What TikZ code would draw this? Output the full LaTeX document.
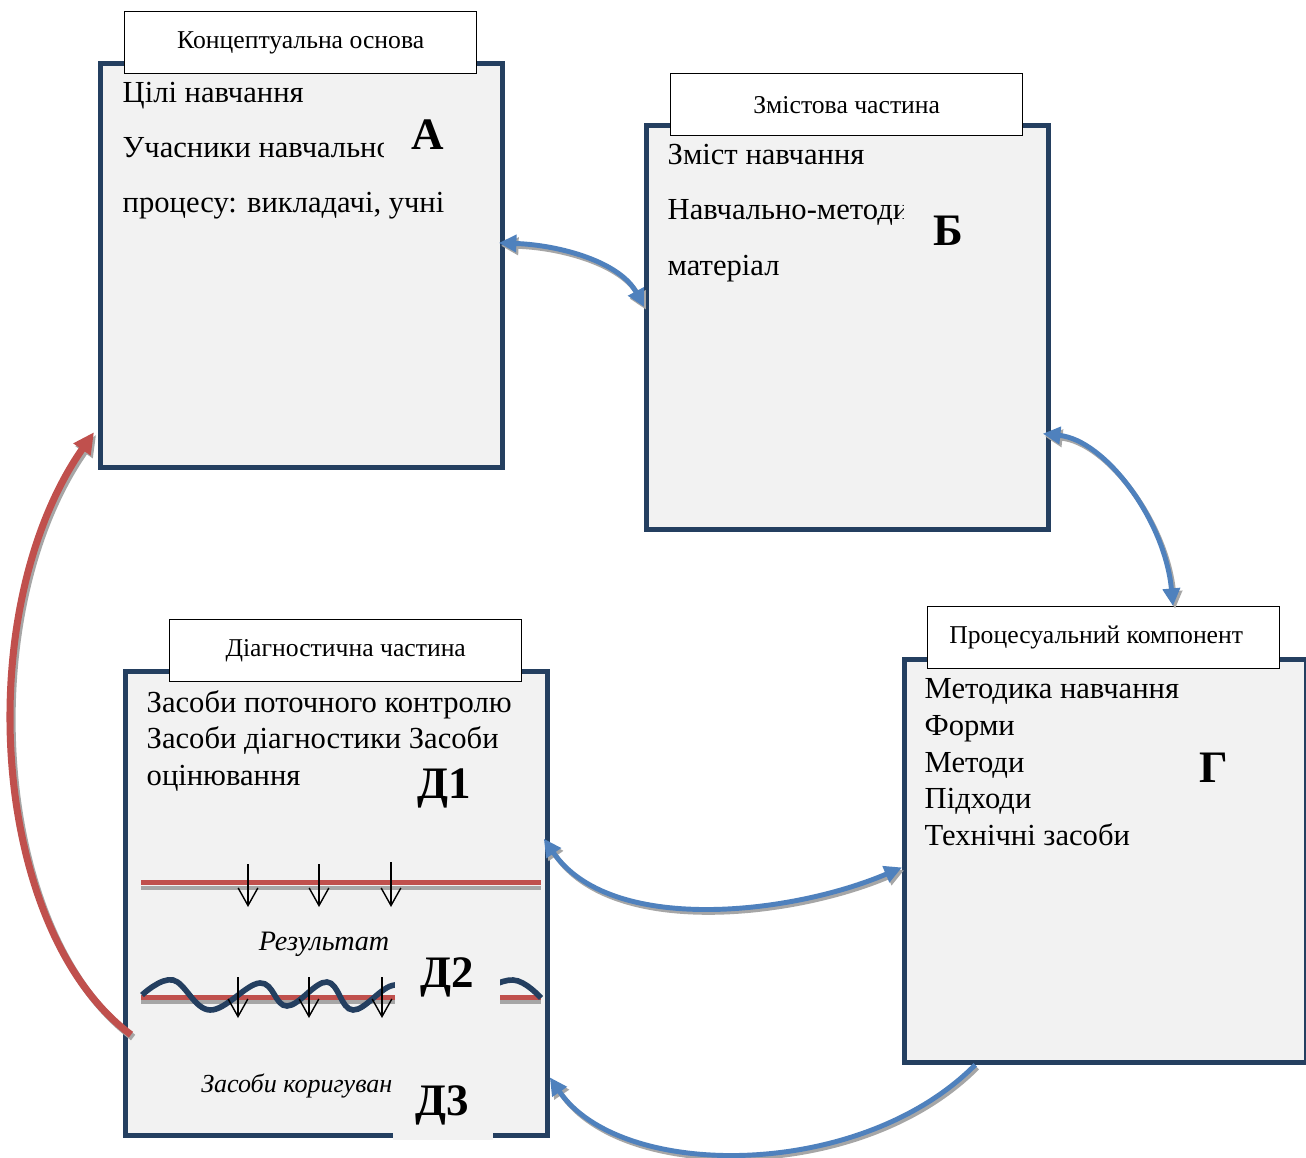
\documentclass[tikz,border=0pt]{standalone}
\usepackage{fontspec}
\setmainfont{Liberation Serif}
\newfontfamily\tnr{Liberation Serif}
\usetikzlibrary{arrows.meta,calc}
\definecolor{navy}{HTML}{243F60}
\definecolor{boxfill}{HTML}{F2F2F2}
\definecolor{conblue}{HTML}{4F81BD}
\definecolor{conred}{HTML}{C0504D}
\definecolor{shadowgray}{HTML}{A6A6A6}
\begin{document}
\begin{tikzpicture}[x=0.01cm,y=-0.01cm,
  panel/.style={draw=navy,line width=1.3pt,fill=boxfill,inner sep=0,anchor=north west},
  titlebox/.style={draw=black,line width=0.35pt,fill=white,minimum width=3.52cm,minimum height=0.62cm,inner sep=0,anchor=north west,font=\tnr\fontsize{7.3}{8}\selectfont},
  body/.style={inner sep=0,anchor=base west,font=\tnr\fontsize{8.7}{10}\selectfont},
  big/.style={inner sep=0,anchor=base,font=\tnr\fontsize{12.8}{14}\selectfont\bfseries},
  ital/.style={inner sep=0,anchor=base east,font=\tnr\fontsize{8}{9}\selectfont\itshape},
  itals/.style={inner sep=0,anchor=base east,font=\tnr\fontsize{7.4}{8}\selectfont\itshape},
  bluecon/.style={draw=conblue,line width=1.4pt},
  redcon/.style={draw=conred,line width=2pt},
  shadowline/.style={draw=shadowgray,line width=1.4pt,transform canvas={shift={(0.6pt,-0.8pt)}}},
  downarrow/.style={draw=black,line width=0.4pt,-{Straight Barb[length=5pt,width=5.6pt]}},
  redbar/.style={draw=conred,line width=1.5pt},
  greybar/.style={draw=shadowgray,line width=1.4pt},
  wave/.style={draw=navy,line width=1.6pt},
]
\useasboundingbox (0,0) rectangle (1306,1158);
\fill[white] (0,0) rectangle (1306,1158);

% panels
\node[panel,minimum width=4.02cm,minimum height=4.04cm] (A) at (98,61) {};
\node[panel,minimum width=4.02cm,minimum height=4.04cm] (B) at (644,123) {};
\node[panel,minimum width=4.02cm,minimum height=4.03cm] (G) at (902,657) {};
\node[panel,minimum width=4.22cm,minimum height=4.64cm] (D) at (123,669) {};

% title boxes
\node[titlebox] (At) at (124,11) {Концептуальна основа};
\node[titlebox] (Bt) at (670,73) {Змістова частина};
\node[titlebox] (Gt) at (927,606) {\hspace*{-0.15cm}Процесуальний компонент};
\node[titlebox] (Dt) at (169,619) {Діагностична частина};

% A texts
\node[body] (a1) at (122,103) {Цілі навчання};
\begin{scope}
\clip (100,120) rectangle (383,175);
\node[body] (a2) at (122,158) {Учасники навчально};
\end{scope}
\node[body] (a3) at (122,213) {процесу: викладачі, учні};
\node[big] (la) at (428,150) {А};

% B texts
\node[body] (b1) at (667,165) {Зміст навчання};
\begin{scope}
\clip (650,180) rectangle (903,235);
\node[body] (b2) at (667,220) {Навчально-методич};
\end{scope}
\node[body] (b3) at (667,276) {матеріал};
\node[big] (lb) at (948,246) {Б};

% G texts
\node[body] (g1) at (924,698) {Методика навчання};
\node[body] (g2) at (924,735) {Форми};
\node[body] (g3) at (924,772) {Методи};
\node[body] (g4) at (924,808) {Підходи};
\node[body] (g5) at (924,845) {Технічні засоби};
\node[big] (lg) at (1214,782) {Г};

% D texts
\node[body] (d1) at (146,712) {Засоби поточного контролю};
\node[body] (d2) at (146,748) {Засоби діагностики Засоби};
\node[body] (d3) at (146,785) {оцінювання};
\node[big] (ld1) at (444,798) {Д1};

% first result line
\draw[greybar] (141,888) -- (541,888);
\draw[redbar] (141,882.5) -- (541,882.5);
\draw[downarrow] (248,864) -- (248,907);
\draw[downarrow] (319,864) -- (319,907);
\draw[downarrow] (391,862) -- (391,907);
\node[ital] (res) at (390,950) {Результат};

% second line with wave
\draw[greybar] (141,1002) -- (541,1002);
\draw[redbar] (141,997.5) -- (541,997.5);
\draw[wave] plot[smooth,tension=0.65] coordinates {(142,995) (173,980) (210,1010) (260,983) (287,1006) (327,982) (353,1010) (395,985) (430,1005) (470,995) (513,980) (541,998)};
\draw[downarrow] (238,977) -- (238,1018);
\draw[downarrow] (309,977) -- (309,1018);
\draw[downarrow] (382,977) -- (382,1018);
\fill[boxfill] (395,945) rectangle (500,1015);
\node[big] (ld2) at (447,987) {Д2};

\node[itals] (kor) at (393,1092) {Засоби коригуван};
\fill[boxfill] (393,1058) rectangle (493,1140);
\node[big] (ld3) at (442,1115) {Д3};

% connector coordinates
\coordinate (ab1) at ($(A.north east)!0.445!(A.south east)+(-6,0)$);
\coordinate (ab2) at ($(B.north west)!0.45!(B.south west)$);
\coordinate (bg1) at ($(B.north east)!0.76!(B.south east)+(-8,0)$);
\coordinate (bg2) at ($(Gt.north west)!0.696!(Gt.north east)$);
\coordinate (dg1) at ($(D.north east)!0.362!(D.south east)+(-6,0)$);
\coordinate (dg2) at ($(G.north west)!0.516!(G.south west)$);
\coordinate (gd1) at ($(G.south west)!0.18!(G.south east)$);
\coordinate (gd2) at ($(D.north east)!0.871!(D.south east)$);
\coordinate (da1) at ($(D.north west)!0.78!(D.south west)+(8,0)$);
\coordinate (da2) at ($(A.north west)!0.908!(A.south west)+(-4,0)$);

% shadows
\draw[shadowline,{Triangle[length=5pt,width=4.8pt]}-{Triangle[length=5pt,width=4.8pt]}] (ab1) .. controls (560,245) and (620,262) .. (ab2);
\draw[shadowline,{Triangle[length=5pt,width=4.8pt]}-{Triangle[length=5pt,width=4.8pt]}] (bg1) .. controls (1105,440) and (1165,520) .. (bg2);
\draw[shadowline,{Triangle[length=5pt,width=4.8pt]}-{Triangle[length=5pt,width=4.8pt]}] (dg1) .. controls (610,935) and (790,915) .. (dg2);
\draw[shadowline,-{Triangle[length=5pt,width=4.8pt]}] (gd1) .. controls (860,1181) and (620,1181) .. (gd2);
\draw[shadowline,line width=2pt,-{Triangle[length=6pt,width=5.6pt]}] (da1) .. controls (-10,930) and (-30,610) .. (da2);

% connectors
\draw[bluecon,{Triangle[length=5pt,width=4.8pt]}-{Triangle[length=5pt,width=4.8pt]}] (ab1) .. controls (560,245) and (620,262) .. (ab2);
\draw[bluecon,{Triangle[length=5pt,width=4.8pt]}-{Triangle[length=5pt,width=4.8pt]}] (bg1) .. controls (1105,440) and (1165,520) .. (bg2);
\draw[bluecon,{Triangle[length=5pt,width=4.8pt]}-{Triangle[length=5pt,width=4.8pt]}] (dg1) .. controls (610,935) and (790,915) .. (dg2);
\draw[bluecon,-{Triangle[length=5pt,width=4.8pt]}] (gd1) .. controls (860,1181) and (620,1181) .. (gd2);
\draw[redcon,-{Triangle[length=6pt,width=5.6pt]}] (da1) .. controls (-10,930) and (-30,610) .. (da2);
\end{tikzpicture}
\end{document}
